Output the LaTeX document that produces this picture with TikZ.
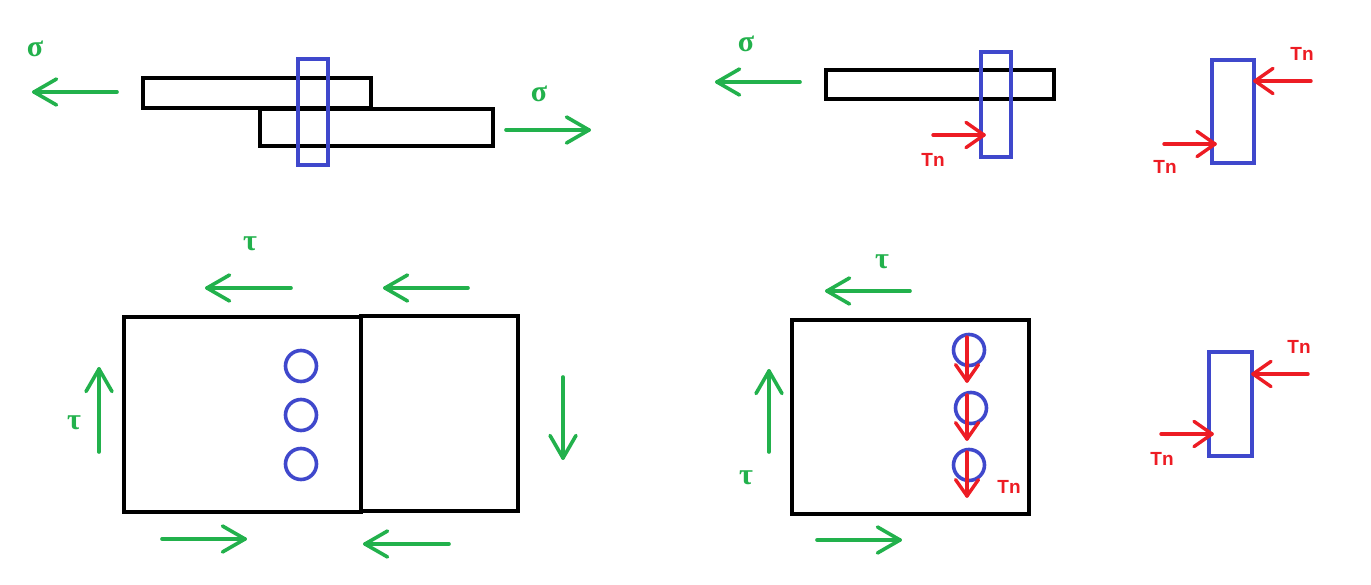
\documentclass[tikz,border=0pt]{standalone}
\usepackage{fontspec}
\setmainfont{Liberation Sans}
\newfontfamily\grk{Liberation Serif}
\tikzset{
  x=1pt,y=-1pt,
  blk/.style={draw=black,line width=3.6pt,fill=none},
  blu/.style={draw=myblue,line width=3.6pt,fill=none},
  grn/.style={draw=mygreen,line width=3.6pt,line cap=round,line join=round},
  rdd/.style={draw=myred,line width=3.4pt,line cap=round,line join=round},
  glab/.style={text=mygreen,font=\grk\bfseries\fontsize{30}{30}\selectfont,inner sep=0pt},
  rlab/.style={text=myred,font=\bfseries\fontsize{19}{19}\selectfont,inner sep=0pt},
}
\definecolor{mygreen}{RGB}{34,177,76}
\definecolor{myblue}{RGB}{63,72,204}
\definecolor{myred}{RGB}{237,28,36}
\newcommand{\garrow}[4]{%
 \coordinate (gs#1) at #2; \coordinate (ge#1) at #3;
 \draw[grn] (gs#1) -- (ge#1);
 \draw[grn] ($(ge#1)!#4!-30:(gs#1)$) -- (ge#1) -- ($(ge#1)!#4!30:(gs#1)$);}
\newcommand{\rarrow}[4]{%
 \coordinate (rs#1) at #2; \coordinate (re#1) at #3;
 \draw[rdd] (rs#1) -- (re#1);
 \draw[rdd] ($(re#1)!#4!-35:(rs#1)$) -- (re#1) -- ($(re#1)!#4!35:(rs#1)$);}
\usetikzlibrary{calc}
\begin{document}
\begin{tikzpicture}
\useasboundingbox (0,0) rectangle (1371,585);
\fill[white] (0,0) rectangle (1371,585);
% top-left
\draw[blk] (143,78) rectangle (371,108);
\draw[blk] (260,109) rectangle (493,146);
\draw[blu] (298,59) rectangle (328,165);
\garrow{a}{(117,92)}{(34,92)}{26pt}
\garrow{b}{(506,130)}{(589,130)}{26pt}
\node[glab] (s1) at (35,49) {σ};
\node[glab] (s2) at (539,94) {σ};
% top-mid
\draw[blk] (826,70) -- (1054,70) -- (1054,99) -- (826,99) -- cycle;
\draw[blu] (981,52) rectangle (1011,157);
\garrow{c}{(800,82)}{(717,82)}{26pt}
\node[glab] (s3) at (746,44) {σ};
\rarrow{a}{(933,135)}{(984,135)}{22pt}
\node[rlab] (t1) at (933,160) {Tn};
% top-right
\draw[blu] (1212,60) rectangle (1254,163);
\rarrow{b}{(1311,81)}{(1255,81)}{22pt}
\rarrow{c}{(1164,144)}{(1215,144)}{22pt}
\node[rlab] (t2) at (1302,54) {Tn};
\node[rlab] (t3) at (1165,167) {Tn};
% bottom-left
\draw[blk] (124,317) rectangle (361,512);
\draw[blk] (361,316) rectangle (518,511);
\draw[blu] (301,366) circle (15.5);
\draw[blu] (301,415) circle (15.5);
\draw[blu] (301,464) circle (15.5);
\garrow{d}{(291,288)}{(207,288)}{26pt}
\garrow{e}{(468,288)}{(385,288)}{26pt}
\garrow{f}{(99,452)}{(99,369)}{26pt}
\garrow{g}{(563,377)}{(563,458)}{26pt}
\garrow{h}{(162,539)}{(245,539)}{26pt}
\garrow{i}{(449,544)}{(365,544)}{26pt}
\node[glab] (t4) at (250,244) {τ};
\node[glab] (t5) at (74,423) {τ};
% bottom-mid
\draw[blk] (792,320) rectangle (1029,514);
\draw[blu] (969,350) circle (15.5);
\draw[blu] (971,408) circle (15.5);
\draw[blu] (969,465) circle (15.5);
\garrow{j}{(910,291)}{(827,291)}{26pt}
\garrow{k}{(769,452)}{(769,371)}{26pt}
\garrow{l}{(817,540)}{(900,540)}{26pt}
\node[glab] (t6) at (882,262) {τ};
\node[glab] (t7) at (746,478) {τ};
\rarrow{d}{(967,337)}{(967,381)}{20pt}
\rarrow{e}{(967,395)}{(967,439)}{20pt}
\rarrow{f}{(967,452)}{(967,496)}{20pt}
\node[rlab] (t8) at (1009,487) {Tn};
% bottom-right
\draw[blu] (1209,352) rectangle (1252,456);
\rarrow{g}{(1308,374)}{(1253,374)}{22pt}
\rarrow{h}{(1161,434)}{(1212,434)}{22pt}
\node[rlab] (t9) at (1299,347) {Tn};
\node[rlab] (t10) at (1162,459) {Tn};
\end{tikzpicture}
\end{document}
